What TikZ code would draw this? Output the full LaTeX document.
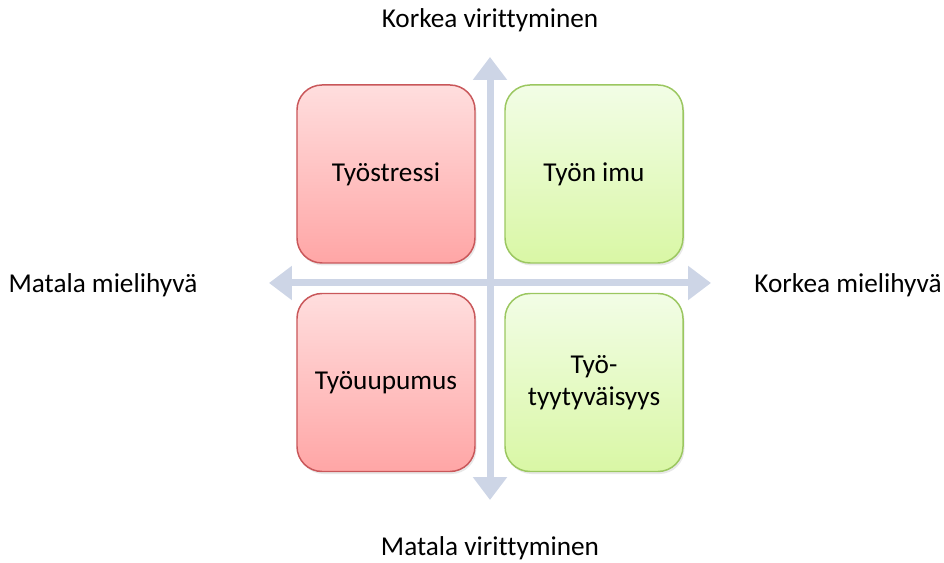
\documentclass[tikz,border=0pt]{standalone}
\usepackage{fontspec}
\setmainfont{Carlito}[Ligatures=NoCommon]
\usepackage{tikz}
\usetikzlibrary{arrows.meta}
\usetikzlibrary{shadows}

\definecolor{akselisin}{HTML}{CDD5E6}
\definecolor{punareuna}{HTML}{C9575A}
\definecolor{vihreareuna}{HTML}{9BC760}
\definecolor{vihreayla}{HTML}{F2FDE6}
\definecolor{vihreaala}{HTML}{D9F7A5}

\tikzset{
  laatikko/.style={minimum width=3.56cm, minimum height=3.56cm, rounded corners=0.5cm,
    line width=0.85pt, align=center, font=\fontsize{15.5}{18.5}\selectfont,
    drop shadow={opacity=0.18, shadow xshift=0.03cm, shadow yshift=-0.05cm}},
  puna/.style={laatikko, draw=punareuna, top color=red!13, bottom color=red!35!white},
  vihrea/.style={laatikko, draw=vihreareuna, top color=vihreayla, bottom color=vihreaala},
  akseli/.style={akselisin, line width=0.14cm,
    {Triangle[width=0.66cm,length=0.46cm]}-{Triangle[width=0.66cm,length=0.46cm]}},
  otsikko/.style={font=\fontsize{15.5}{18.5}\selectfont}
}

\begin{document}
\begin{tikzpicture}
              \useasboundingbox (-9.8,-5.6) rectangle (9.08,5.66);

              \coordinate (ylos) at (0, 4.52);
              \coordinate (alas) at (0, -4.34);
              \coordinate (vasen) at (-4.42, 0);
              \coordinate (oikea) at (4.42, 0);

              \draw[akseli] (vasen) -- (oikea);
              \draw[akseli] (alas) -- (ylos);

              \node[puna] (tyostressi) at (-2.08, 2.18) {Työstressi};
              \node[vihrea] (tyonimu) at (2.08, 2.18) {Työn imu};
              \node[puna] (tyouupumus) at (-2.08, -1.99) {Työuupumus};
              \node[vihrea] (tyytyvaisyys) at (2.08, -1.99) {Työ-\\tyytyväisyys};

              \node[otsikko] (korkeavir) at (0, 5.26) {Korkea virittyminen};
              \node[otsikko] (matalavir) at (0, -5.3) {Matala virittyminen};
              \node[otsikko] (matalamiel) at (-7.74, -0.04) {Matala mielihyvä};
              \node[otsikko] (korkeamiel) at (7.16, -0.04) {Korkea mielihyvä};
            \end{tikzpicture}
\end{document}
